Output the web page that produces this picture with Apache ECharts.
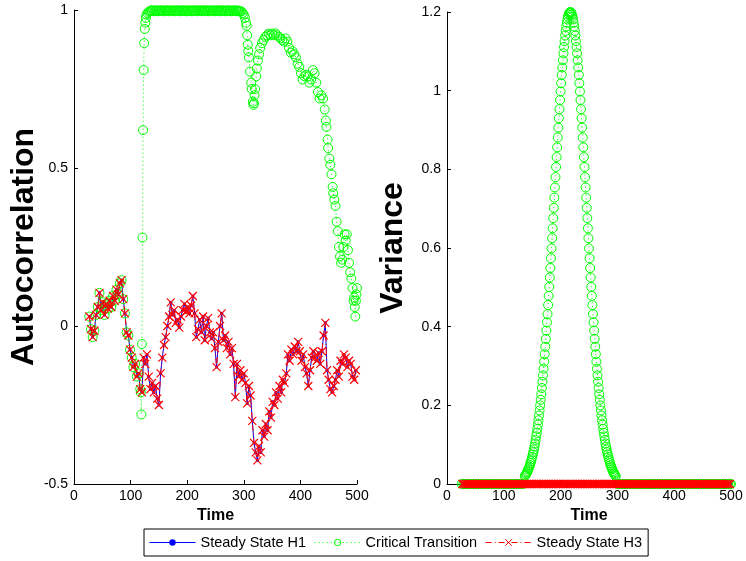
<!DOCTYPE html>
<html>
<head>
<meta charset="utf-8">
<script src="https://cdn.jsdelivr.net/npm/echarts@6/dist/echarts.min.js"></script>
<style>
html,body{margin:0;padding:0;background:#fff;}
#chart{width:746px;height:561px;}
</style>
</head>
<body>
<div id="chart"></div>
<script>
// ---------- data ----------
const seriesNames = ['Steady State H1', 'Critical Transition', 'Steady State H3'];

// time samples for the steady-state series
const time = [
  27,30,33,36,39,42,45,48,51,54,
  57,60,63,66,69,72,75,78,81,84,
  87,90,93,96,99,102,105,108,111,114,
  117,120,123,126,129,132,135,138,141,144,
  147,150,153,156,159,162,165,168,171,174,
  177,180,183,186,189,192,195,198,201,204,
  207,210,213,216,219,222,225,228,231,234,
  237,240,243,246,249,252,255,258,261,264,
  267,270,273,276,279,282,285,288,291,294,
  297,300,303,306,309,312,315,318,321,324,
  327,330,333,336,339,342,345,348,351,354,
  357,360,363,366,369,372,375,378,381,384,
  387,390,393,396,399,402,405,408,411,414,
  417,420,423,426,429,432,435,438,441,444,
  447,450,453,456,459,462,465,468,471,474,
  477,480,483,486,489,492,495,498
];

// autocorrelation of the steady-state series (H1 and H3 coincide)
const acSteady = [
  0.03,-0.01,-0.035,-0.015,0.035,0.06,0.105,0.05,0.075,0.035,
  0.07,0.055,0.08,0.06,0.095,0.08,0.115,0.10,0.135,0.145,
  0.085,0.04,-0.02,-0.03,-0.075,-0.10,-0.13,-0.12,-0.16,-0.15,
  -0.2,-0.21,-0.1,-0.12,-0.09,-0.16,-0.2,-0.18,-0.21,-0.19,
  -0.23,-0.25,-0.15,-0.1,-0.06,-0.035,0.0,0.03,0.075,0.035,
  0.05,0.01,0.02,-0.005,0.03,0.05,0.07,0.045,0.06,0.04,
  0.065,0.095,0.04,-0.035,-0.01,0.02,-0.02,0.03,-0.045,0.0,
  0.025,-0.02,-0.04,-0.02,-0.07,-0.13,-0.05,0.0,0.04,-0.045,
  -0.03,-0.07,-0.05,-0.09,-0.07,-0.12,-0.225,-0.12,-0.16,-0.14,
  -0.17,-0.15,-0.18,-0.245,-0.19,-0.22,-0.3,-0.37,-0.4,-0.425,
  -0.38,-0.4,-0.33,-0.35,-0.31,-0.33,-0.27,-0.29,-0.24,-0.25,
  -0.21,-0.23,-0.19,-0.21,-0.17,-0.18,-0.15,-0.09,-0.11,-0.075,
  -0.09,-0.065,-0.08,-0.05,-0.08,-0.11,-0.09,-0.13,-0.15,-0.19,
  -0.14,-0.1,-0.08,-0.1,-0.11,-0.085,-0.12,-0.08,-0.03,0.01,
  -0.14,-0.17,-0.2,-0.21,-0.19,-0.17,-0.14,-0.16,-0.11,-0.12,
  -0.09,-0.1,-0.13,-0.11,-0.12,-0.16,-0.17,-0.14
];

// autocorrelation of the critical-transition series: [time, value]
const acCritical = [
  [27,0.03],[30,-0.01],[33,-0.035],[36,-0.015],[39,0.035],[42,0.06],[45,0.105],[48,0.05],[51,0.075],[54,0.035],
  [57,0.07],[60,0.055],[63,0.08],[66,0.06],[69,0.095],[72,0.08],[75,0.115],[78,0.10],[81,0.135],[84,0.145],
  [87,0.085],[90,0.04],[93,-0.02],[96,-0.03],[99,-0.075],[102,-0.10],[105,-0.13],[108,-0.12],[111,-0.16],[114,-0.15],
  [117,-0.2],[118,-0.21],[119,-0.28],[120,-0.057],[121,0.28],[122,0.62],[123,0.81],[124,0.895],[125,0.94],[126,0.96],
  [127,0.975],[128,0.985],[130,0.99],[132,0.994],
  [134,0.996],[136,0.999],[138,0.997],[140,0.999],[142,0.996],[144,0.998],[146,0.999],[148,0.996],[150,0.998],[152,0.999],
  [154,0.997],[156,0.999],[158,0.996],[160,0.998],[162,0.999],[164,0.997],[166,0.999],[168,0.996],[170,0.998],[172,0.999],
  [174,0.997],[176,0.999],[178,0.996],[180,0.998],[182,0.999],[184,0.997],[186,0.999],[188,0.996],[190,0.998],[192,0.999],
  [194,0.997],[196,0.999],[198,0.996],[200,0.998],[202,0.999],[204,0.997],[206,0.999],[208,0.996],[210,0.998],[212,0.999],
  [214,0.997],[216,0.999],[218,0.996],[220,0.998],[222,0.999],[224,0.997],[226,0.999],[228,0.996],[230,0.998],[232,0.999],
  [234,0.997],[236,0.999],[238,0.996],[240,0.998],[242,0.999],[244,0.997],[246,0.999],[248,0.996],[250,0.998],[252,0.999],
  [254,0.997],[256,0.999],[258,0.996],[260,0.998],[262,0.999],[264,0.997],[266,0.999],[268,0.996],[270,0.998],[272,0.999],
  [274,0.997],[276,0.999],[278,0.996],[280,0.998],[282,0.999],[284,0.997],[286,0.999],[288,0.996],[290,0.998],[292,0.997],
  [294,0.996],[296,0.995],
  [298,0.99],[300,0.985],[302,0.975],[304,0.96],[305,0.95],[306,0.92],[307,0.89],[308,0.87],[309,0.85],[311,0.805],
  [313,0.77],[314,0.75],[316,0.71],[317,0.70],[318,0.705],[319,0.73],[320,0.75],[322,0.79],[323,0.815],[325,0.84],
  [327,0.86],[329,0.88],[332,0.895],[335,0.905],[338,0.915],[341,0.92],[344,0.925],[347,0.92],[350,0.925],[353,0.92],
  [356,0.926],[359,0.92],[362,0.915],[365,0.91],[368,0.905],[371,0.9],[374,0.91],[377,0.9],[380,0.88],[383,0.865],
  [386,0.87],[389,0.86],[392,0.85],[395,0.83],[398,0.82],[401,0.8],[404,0.78],[407,0.79],[410,0.795],[413,0.79],
  [416,0.77],[419,0.78],[422,0.81],[425,0.8],[428,0.77],[431,0.74],[434,0.72],[437,0.73],[440,0.72],[443,0.685],
  [445,0.65],[446,0.63],[448,0.59],[449,0.563],[451,0.53],[453,0.51],[455,0.48],[457,0.44],[458,0.42],[460,0.4],
  [462,0.38],[464,0.33],[466,0.3],[468,0.25],[470,0.22],[472,0.2],[474,0.21],[476,0.25],[478,0.29],[480,0.27],
  [482,0.29],[484,0.24],[486,0.2],[488,0.17],[490,0.15],[492,0.12],[494,0.08],[495,0.09],[496,0.06],[497,0.03],
  [498,0.08],[499,0.1],[500,0.12]
];

// variance of the steady-state series (on `time`)
const varSteady = [
  0,0,0,0,0,0,0,0,0,0,0,0,0,0,0,0,0,0,0,0,
  0,0,0,0,0,0,0,0,0,0,0,0,0,0,0,0,0,0,0,0,
  0,0,0,0,0,0,0,0,0,0,0,0,0,0,0,0,0,0,0,0,
  0,0,0,0,0,0,0,0,0,0,0,0,0,0,0,0,0,0,0,0,
  0,0,0,0,0,0,0,0,0,0,0,0,0,0,0,0,0,0,0,0,
  0,0,0,0,0,0,0,0,0,0,0,0,0,0,0,0,0,0,0,0,
  0,0,0,0,0,0,0,0,0,0,0,0,0,0,0,0,0,0,0,0,
  0,0,0,0,0,0,0,0,0,0,0,0,0,0,0,0,0,0
];

// time samples and variance for the critical-transition series
const varTime = [
  26,29,32,35,38,41,44,47,50,53,
  56,59,62,65,68,71,74,77,80,83,
  86,89,92,95,98,101,104,107,110,113,
  116,119,122,125,128,131,134,
  137,138,139,140,141,142,143,144,145,146,
  147,148,149,150,151,152,153,154,155,156,
  157,158,159,160,161,162,163,164,165,166,
  167,168,169,170,171,172,173,174,175,176,
  177,178,179,180,181,182,183,184,185,186,
  187,188,189,190,191,192,193,194,195,196,
  197,198,199,200,201,202,203,204,205,206,
  207,208,209,210,211,212,213,214,215,216,
  217,
  218,219,220,221,222,223,224,225,226,227,
  228,229,230,231,232,233,234,235,236,237,
  238,239,240,241,242,243,244,245,246,247,
  248,249,250,251,252,253,254,255,256,257,
  258,259,260,261,262,263,264,265,266,267,
  268,269,270,271,272,273,274,275,276,277,
  278,279,280,281,282,283,284,285,286,287,
  288,289,290,291,292,293,294,295,296,297,
  300,303,306,309,312,315,318,321,324,327,
  330,333,336,339,342,345,348,351,354,357,
  360,363,366,369,372,375,378,381,384,387,
  390,393,396,399,402,405,408,411,414,417,
  420,423,426,429,432,435,438,441,444,447,
  450,453,456,459,462,465,468,471,474,477,
  480,483,486,489,492,495,498,500
];
const varCritical = [
  0,0,0,0,0,0,0,0,0,0,
  0,0,0,0,0,0,0,0,0,0,
  0,0,0,0,0,0,0,0,0,0,
  0,0,0,0,0,0,0,
  0.020,0.022,0.025,0.027,0.030,0.033,0.037,0.040,0.044,0.048,
  0.053,0.058,0.063,0.069,0.075,0.081,0.088,0.095,0.103,0.112,
  0.121,0.130,0.140,0.151,0.162,0.174,0.187,0.200,0.214,0.228,
  0.244,0.260,0.276,0.293,0.311,0.330,0.349,0.369,0.390,0.411,
  0.432,0.455,0.478,0.501,0.525,0.549,0.574,0.599,0.625,0.650,
  0.676,0.702,0.728,0.754,0.780,0.806,0.831,0.856,0.881,0.906,
  0.930,0.953,0.976,0.998,1.019,1.040,1.059,1.077,1.095,1.111,
  1.126,1.140,1.152,1.163,1.173,1.181,1.188,1.193,1.197,1.199,
  1.2,
  1.199,1.197,1.193,1.188,1.181,1.173,1.163,1.152,1.140,1.126,
  1.111,1.095,1.077,1.059,1.040,1.019,0.998,0.976,0.953,0.930,
  0.906,0.881,0.856,0.831,0.806,0.780,0.754,0.728,0.702,0.676,
  0.650,0.625,0.599,0.574,0.549,0.525,0.501,0.478,0.455,0.432,
  0.411,0.390,0.369,0.349,0.330,0.311,0.293,0.276,0.260,0.244,
  0.228,0.214,0.200,0.187,0.174,0.162,0.151,0.140,0.130,0.121,
  0.112,0.103,0.095,0.088,0.081,0.075,0.069,0.063,0.058,0.053,
  0.048,0.044,0.040,0.037,0.033,0.030,0.027,0.025,0.022,0.020,
  0,0,0,0,0,0,0,0,0,0,
  0,0,0,0,0,0,0,0,0,0,
  0,0,0,0,0,0,0,0,0,0,
  0,0,0,0,0,0,0,0,0,0,
  0,0,0,0,0,0,0,0,0,0,
  0,0,0,0,0,0,0,0,0,0,
  0,0,0,0,0,0,0,0
];

// axis ticks
const xTicks = {min: 0, max: 500, interval: 100};
const acTicks = {min: -0.5, max: 1, interval: 0.5};
const varTicks = {min: 0, max: 1.2, interval: 0.2};

// ---------- chart ----------
const FONT = "'Liberation Sans', Arial, Helvetica, sans-serif";
const BLUE = '#0000ff', GREEN = '#00ff00', RED = '#ff0000';
const X_SYMBOL = 'path://M0 0L10 10M10 0L0 10';

function pairs(xs, ys) { return xs.map((x, i) => [x, ys[i]]); }

function xAxis(gridIndex) {
  return {
    type: 'value', gridIndex, min: xTicks.min, max: xTicks.max, interval: xTicks.interval,
    name: 'Time', nameLocation: 'middle', nameGap: 24,
    nameTextStyle: {fontFamily: FONT, fontSize: 16, fontWeight: 'bold', color: '#000'},
    axisLine: {show: true, onZero: false, lineStyle: {color: '#000', width: 1}},
    axisTick: {show: true, inside: true, length: 4, lineStyle: {color: '#000'}},
    axisLabel: {fontFamily: FONT, fontSize: 14, color: '#000', margin: 5},
    splitLine: {show: false}
  };
}
function yAxis(gridIndex, ticks, name, gap, fmt) {
  return {
    type: 'value', gridIndex, min: ticks.min, max: ticks.max, interval: ticks.interval,
    name, nameLocation: 'middle', nameGap: gap, nameRotate: 90,
    nameTextStyle: {fontFamily: FONT, fontSize: 32, fontWeight: 'bold', color: '#000'},
    axisLine: {show: true, onZero: false, lineStyle: {color: '#000', width: 1}},
    axisTick: {show: true, inside: true, length: 4, lineStyle: {color: '#000'}},
    axisLabel: {fontFamily: FONT, fontSize: 14, color: '#000', margin: 6, formatter: fmt},
    splitLine: {show: false}
  };
}

function h1(xi, yi, data) {
  return {
    name: seriesNames[0], type: 'line', xAxisIndex: xi, yAxisIndex: yi, data,
    symbol: 'circle', symbolSize: 3,
    lineStyle: {color: BLUE, width: 1},
    itemStyle: {color: BLUE},
    z: 2
  };
}
function ct(xi, yi, data) {
  return {
    name: seriesNames[1], type: 'line', xAxisIndex: xi, yAxisIndex: yi, data,
    symbol: 'circle', symbolSize: 9,
    lineStyle: {color: GREEN, width: 1, type: [1, 3]},
    itemStyle: {color: 'rgba(0,0,0,0)', borderColor: GREEN, borderWidth: 1},
    z: 3
  };
}
function h3(xi, yi, data) {
  return {
    name: seriesNames[2], type: 'line', xAxisIndex: xi, yAxisIndex: yi, data,
    symbol: X_SYMBOL, symbolSize: 8,
    lineStyle: {color: RED, width: 1, type: [6, 3, 1, 3]},
    itemStyle: {color: RED, borderColor: RED, borderWidth: 1.2},
    z: 4
  };
}

const chart = echarts.init(document.getElementById('chart'), null, {renderer: 'canvas'});
chart.setOption({
  animation: false,
  backgroundColor: '#fff',
  grid: [
    {left: 74, right: 389, top: 10, bottom: 77},
    {left: 447, right: 15, top: 12, bottom: 77}
  ],
  xAxis: [xAxis(0), xAxis(1)],
  yAxis: [
    yAxis(0, acTicks, 'Autocorrelation', 30, v => (v === 0 ? '0' : String(v))),
    yAxis(1, varTicks, 'Variance', 38, v => (v === 0 ? '0' : String(Math.round(v * 10) / 10)))
  ],
  legend: {
    data: seriesNames,
    left: 144, top: 529,
    orient: 'horizontal',
    itemWidth: 46, itemHeight: 8, itemGap: 8,
    padding: [6, 6, 6, 5],
    borderColor: '#000', borderWidth: 1, borderRadius: 0,
    backgroundColor: '#fff',
    lineStyle: {width: 1},
    itemStyle: {borderWidth: 1},
    textStyle: {fontFamily: FONT, fontSize: 14.5, color: '#000'}
  },
  series: [
    h1(0, 0, pairs(time, acSteady)),
    ct(0, 0, acCritical),
    h3(0, 0, pairs(time, acSteady)),
    h1(1, 1, pairs(time, varSteady)),
    ct(1, 1, pairs(varTime, varCritical)),
    h3(1, 1, pairs(time, varSteady))
  ]
});
</script>
</body>
</html>
